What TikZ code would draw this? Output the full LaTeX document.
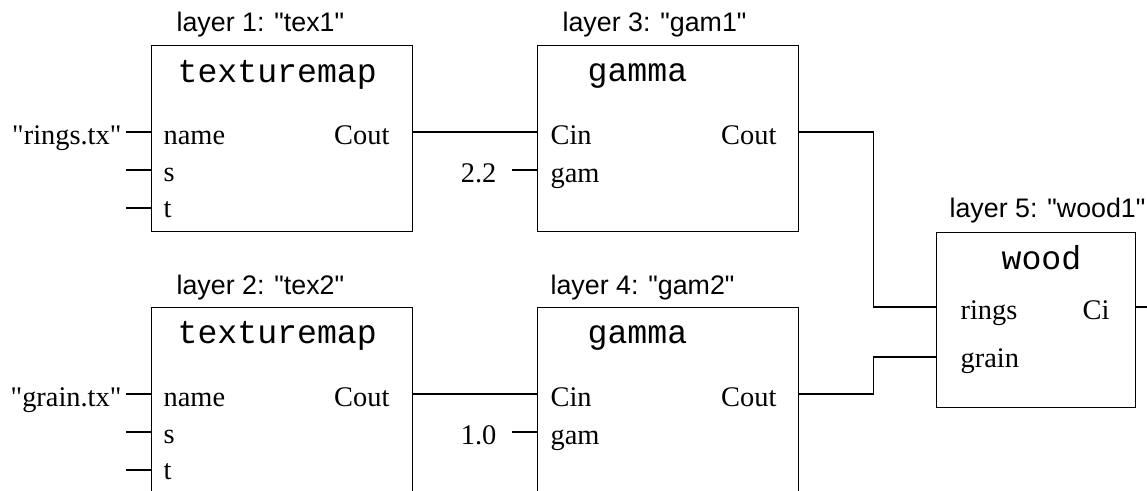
\documentclass[tikz,border=0pt]{standalone}
\usepackage{fontspec}
\setmainfont{Liberation Serif}
\setsansfont{Liberation Sans}
\setmonofont{Liberation Mono}
\usetikzlibrary{calc}

\newcommand{\qq}{\textquotedbl}

\tikzset{
  block/.style={draw,anchor=north west,inner sep=0pt,minimum width=130.5pt,minimum height=93pt},
  layerlbl/.style={font=\sffamily\fontsize{13.4}{15}\selectfont,anchor=base west,inner sep=0pt},
  kind/.style={font=\ttfamily\fontsize{16.6}{18}\selectfont,anchor=base west,inner sep=0pt},
  pin/.style={font=\rmfamily\fontsize{14.2}{16}\selectfont,anchor=base west,inner sep=0pt},
  pout/.style={pin,anchor=base east},
  value/.style={pin,anchor=base east,inner ysep=0pt,inner xsep=2pt}
}

\begin{document}
\begin{tikzpicture}[x=0.5pt,y=-0.5pt,line width=0.6pt]
\clip (0,0) rectangle (1147,491);

% boxes
\node[block] (tex1) at (151,45) {};
\node[block] (tex2) at (151,307) {};
\node[block] (gam1) at (537,45) {};
\node[block] (gam2) at (537,307) {};
\node[block,minimum width=99.5pt,minimum height=87.5pt] (wood) at (936,232) {};

% port points on the box edges
\foreach \b in {tex1,tex2,gam1,gam2} {
  \coordinate (\b-in1) at ($(\b.north west)+(0,87)$);
  \coordinate (\b-in2) at ($(\b.north west)+(0,125)$);
  \coordinate (\b-in3) at ($(\b.north west)+(0,163)$);
  \coordinate (\b-out) at ($(\b.north east)+(0,87)$);
}
\coordinate (wood-in1) at ($(wood.north west)+(0,75)$);
\coordinate (wood-in2) at ($(wood.north west)+(0,125)$);
\coordinate (wood-out) at ($(wood.north east)+(0,75)$);

% layer titles
\node[layerlbl] (t1) at (176,32) {layer 1: \qq tex1\qq};
\node[layerlbl] (t2) at (176,295) {layer 2: \qq tex2\qq};
\node[layerlbl] (t3) at (562,32) {layer 3: \qq gam1\qq};
\node[layerlbl] (t4) at (550,295) {layer 4: \qq gam2\qq};
\node[layerlbl] (t5) at (949,218) {layer 5: \qq wood1\qq};

% shader names
\node[kind] (k1) at (177,83) {texturemap};
\node[kind] (k2) at (177,344) {texturemap};
\node[kind] (k3) at (587,82) {gamma};
\node[kind] (k4) at (587,344) {gamma};
\node[kind] (k5) at (1001,270) {wood};

% parameters
\node[pin] (tex1-name) at (163,145) {name};
\node[pin] (tex1-s) at (163,182) {s};
\node[pin] (tex1-t) at (163,218) {t};
\node[pout] (tex1-cout) at (390,145) {Cout};
\node[pin] (tex2-name) at (163,407) {name};
\node[pin] (tex2-s) at (163,444) {s};
\node[pin] (tex2-t) at (163,480) {t};
\node[pout] (tex2-cout) at (390,407) {Cout};
\node[pin] (gam1-cin) at (550,145) {Cin};
\node[pin] (gam1-gam) at (550,183) {gam};
\node[pout] (gam1-cout) at (777,145) {Cout};
\node[pin] (gam2-cin) at (550,407) {Cin};
\node[pin] (gam2-gam) at (550,445) {gam};
\node[pout] (gam2-cout) at (777,407) {Cout};
\node[pin] (wood-rings) at (960,320) {rings};
\node[pin] (wood-grain) at (960,368) {grain};
\node[pout] (wood-ci) at (1110,320) {Ci};

% constant values
\node[value] (v1) at (126,145) {\qq rings.tx\qq};
\node[value] (v2) at (126,407) {\qq grain.tx\qq};
\node[value,inner xsep=7.5pt] (v3) at (512,183) {2.2};
\node[value,inner xsep=7.5pt] (v4) at (512,445) {1.0};

% inputs
\draw (v1.east |- tex1-in1) -- (tex1-in1);
\draw (v2.east |- tex2-in1) -- (tex2-in1);
\draw (v3.east |- gam1-in2) -- (gam1-in2);
\draw (v4.east |- gam2-in2) -- (gam2-in2);
\foreach \b in {tex1,tex2} {
  \draw (\b-in2) -- ++(-25,0);
  \draw (\b-in3) -- ++(-25,0);
}

% wires
\draw (tex1-out) -- (gam1-in1);
\draw (tex2-out) -- (gam2-in1);
\draw (gam1-out) -- ++(74,0) |- (wood-in1);
\draw (gam2-out) -- ++(74,0) |- (wood-in2);
\draw (wood-out) -- ++(20,0);
\end{tikzpicture}
\end{document}
